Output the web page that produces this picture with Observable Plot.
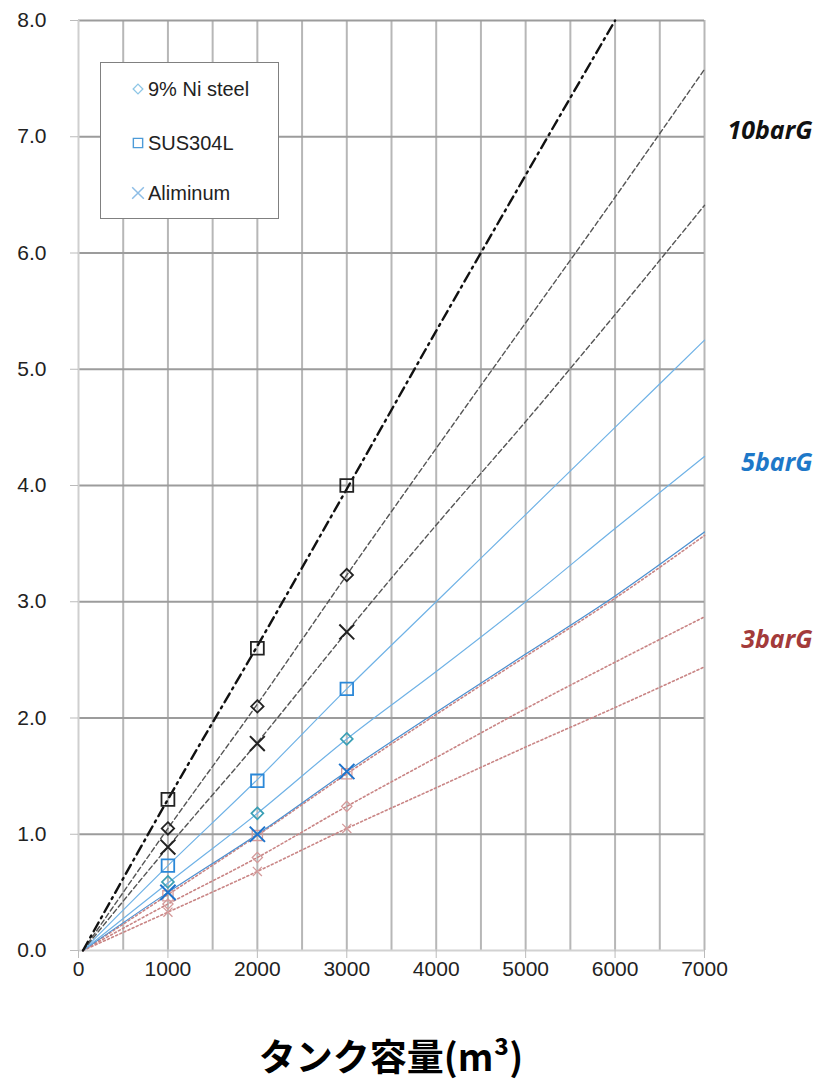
<!DOCTYPE html>
<html><head><meta charset="utf-8">
<script src="https://cdn.jsdelivr.net/npm/d3@7"></script>
<script src="https://cdn.jsdelivr.net/npm/@observablehq/plot@0.6"></script>
<style>
body{margin:0;background:#fff;}
#wrap{position:relative;width:824px;height:1084px;overflow:hidden;}
#chart{position:absolute;left:0;top:0;}
#legend{position:absolute;left:100px;top:62px;width:179px;height:157px;border:1px solid #808080;background:#fff;box-sizing:border-box;font-family:"Liberation Sans",Arial,sans-serif;font-size:20px;color:#222;}
#legend .row{position:absolute;left:30px;height:24px;display:flex;align-items:center;}
#legend .row svg{margin-right:3px;}
#title{position:absolute;left:78px;width:626px;top:1030px;height:50px;line-height:50px;text-align:center;font-family:"Noto Sans CJK JP",sans-serif;font-weight:700;font-size:37px;color:#000;}
</style></head>
<body><div id="wrap"><div id="chart"></div><div id="legend"></div><div id="title">タンク容量(m³)</div></div>
<script>
// ---- data ----
const capacity = [50, 1000, 2000, 3000, 4000, 5000, 6000, 7000];
const line10SUS = [0, 1.3, 2.62, 3.97, 5.33, 6.67, 8.0, null];
const line10Ni  = [0, 1.05, 2.12, 3.23, 4.32, 5.4, 6.48, 7.58];
const line10Al  = [0, 0.89, 1.79, 2.74, 3.66, 4.55, 5.47, 6.41];
const line5SUS  = [0, 0.73, 1.47, 2.25, 3.0, 3.75, 4.5, 5.25];
const line5Ni   = [0, 0.58, 1.18, 1.82, 2.4, 3.0, 3.63, 4.25];
const line5Al   = [0, 0.5, 1.0, 1.54, 2.05, 2.55, 3.05, 3.6];
const line3SUS  = [0, 0.48, 0.99, 1.52, 2.03, 2.53, 3.03, 3.57];
const line3Ni   = [0, 0.4, 0.8, 1.24, 1.66, 2.08, 2.48, 2.87];
const line3Al   = [0, 0.33, 0.68, 1.05, 1.4, 1.75, 2.09, 2.44];

const markerCapacity = [1000, 2000, 3000];
const pt10SUS = [1.3, 2.6, 4.0];
const pt10Ni  = [1.05, 2.1, 3.23];
const pt10Al  = [0.89, 1.78, 2.74];
const pt5SUS  = [0.73, 1.46, 2.25];
const pt5Ni   = [0.59, 1.18, 1.82];
const pt5Al   = [0.5, 1.0, 1.54];
const pt3SUS  = [0.47, 0.99, 1.52];
const pt3Ni   = [0.4, 0.8, 1.24];
const pt3Al   = [0.33, 0.68, 1.05];

const xTicks = [0, 1000, 2000, 3000, 4000, 5000, 6000, 7000];
const xGrid = [500, 1000, 1500, 2000, 2500, 3000, 3500, 4000, 4500, 5000, 5500, 6000, 6500, 7000];
const yTicks = [0, 1, 2, 3, 4, 5, 6, 7, 8];
const legendNames = ["9% Ni steel", "SUS304L", "Aliminum"];
const pressureLabels = ["10barG", "5barG", "3barG"];
const pressureLabelY = [7.05, 4.19, 2.67];

// ---- styles ----
const lineStyles = [
  {v: line3Al,  stroke: "#c98585", w: 1.6, dash: "2,2.5"},
  {v: line3Ni,  stroke: "#c98585", w: 1.6, dash: "2,2.5"},
  {v: line3SUS, stroke: "#c98585", w: 1.6, dash: "2,2.5"},
  {v: line5Al,  stroke: "#4a8fd0", w: 1.2, dash: null},
  {v: line5Ni,  stroke: "#6fb2e6", w: 1.2, dash: null},
  {v: line5SUS, stroke: "#6fb2e6", w: 1.2, dash: null},
  {v: line10Al, stroke: "#555", w: 1.4, dash: "5,3"},
  {v: line10Ni, stroke: "#555", w: 1.4, dash: "5,3"},
  {v: line10SUS, stroke: "#111", w: 2.4, dash: "10,5,2,5"}
];
const dotStyles = [
  {v: pt3Al,  symbol: "times",    r: 4.2, stroke: "#d49a9a", w: 1.3},
  {v: pt3Ni,  symbol: "diamond2", r: 4.6, stroke: "#d49a9a", w: 1.3},
  {v: pt3SUS, symbol: "square2",  r: 6.5, stroke: "#d49a9a", w: 1.3},
  {v: pt5Al,  symbol: "times",    r: 7,   stroke: "#1e74cc", w: 2},
  {v: pt5Ni,  symbol: "diamond2", r: 5.4, stroke: "#3a9fb5", w: 1.7},
  {v: pt5SUS, symbol: "square2",  r: 8,   stroke: "#2b88d8", w: 1.8},
  {v: pt10Al, symbol: "times",    r: 6.8, stroke: "#222", w: 2},
  {v: pt10Ni, symbol: "diamond2", r: 5.6, stroke: "#222", w: 1.8},
  {v: pt10SUS, symbol: "square2", r: 8.2, stroke: "#222", w: 1.8}
];
const labelColors = ["#111", "#1e78c8", "#a33a3a"];

const lineMarks = lineStyles.map(s => Plot.line(
  capacity.map((x, i) => ({x, y: s.v[i]})).filter(d => d.y != null),
  {x: "x", y: "y", stroke: s.stroke, strokeWidth: s.w, strokeDasharray: s.dash, curve: "monotone-x"}
));
const dotMarks = dotStyles.map(s => Plot.dot(
  markerCapacity.map((x, i) => ({x, y: s.v[i]})),
  {x: "x", y: "y", symbol: s.symbol, r: s.r, stroke: s.stroke, strokeWidth: s.w, fill: "none"}
));
const labelData = pressureLabels.map((t, i) => ({t, y: pressureLabelY[i], c: labelColors[i], x: 7000}));

const chart = Plot.plot({
  width: 824, height: 990,
  marginLeft: 78, marginRight: 120, marginTop: 20, marginBottom: 40,
  style: {fontFamily: "'Liberation Sans', Arial, sans-serif", fontSize: "21px", color: "#222", background: "#fff"},
  x: {domain: [0, 7000]},
  y: {domain: [0, 8]},
  marks: [
    Plot.gridX(xGrid, {stroke: "#b7b7b7", strokeWidth: 2, strokeOpacity: 1}),
    Plot.gridY(yTicks.slice(1), {stroke: "#9c9c9c", strokeWidth: 2, strokeOpacity: 1}),
    Plot.ruleX([0], {stroke: "#cfcfcf", strokeWidth: 2}),
    Plot.ruleY([0], {stroke: "#d2d2d2", strokeWidth: 2}),
    Plot.axisX(xTicks, {tickSize: 8, tickPadding: 3, stroke: "#bbb", label: null, tickFormat: d => String(d), fill: "#222"}),
    Plot.axisY(yTicks, {tickSize: 8, tickPadding: 24, stroke: "#bbb", label: null, tickFormat: d => d.toFixed(1), fill: "#222"}),
    ...lineMarks,
    ...dotMarks,
    Plot.text(labelData, {x: "x", y: "y", text: "t", fill: "c", dx: 108, textAnchor: "end",
      fontFamily: "'Open Sans', sans-serif", fontWeight: 700, fontStyle: "italic", fontSize: 25})
  ]
});
document.getElementById("chart").appendChild(chart);

// legend
const legendSym = [
  {type: d3.symbolDiamond2, size: 60, stroke: "#8ec6e6", w: 1.3},
  {type: d3.symbolSquare2, size: 110, stroke: "#4d9bd8", w: 1.4},
  {type: d3.symbolTimes, size: 90, stroke: "#8dbde6", w: 1.5}
];
const rowTops = [14, 68, 118];
const legend = document.getElementById("legend");
legendNames.forEach((name, i) => {
  const row = document.createElement("div");
  row.className = "row";
  row.style.top = rowTops[i] + "px";
  const s = legendSym[i];
  const path = d3.symbol().type(s.type).size(s.size)();
  row.innerHTML = `<svg width="14" height="14" viewBox="-7 -7 14 14"><path d="${path}" fill="none" stroke="${s.stroke}" stroke-width="${s.w}"/></svg><span>${name}</span>`;
  legend.appendChild(row);
});
</script></body></html>
